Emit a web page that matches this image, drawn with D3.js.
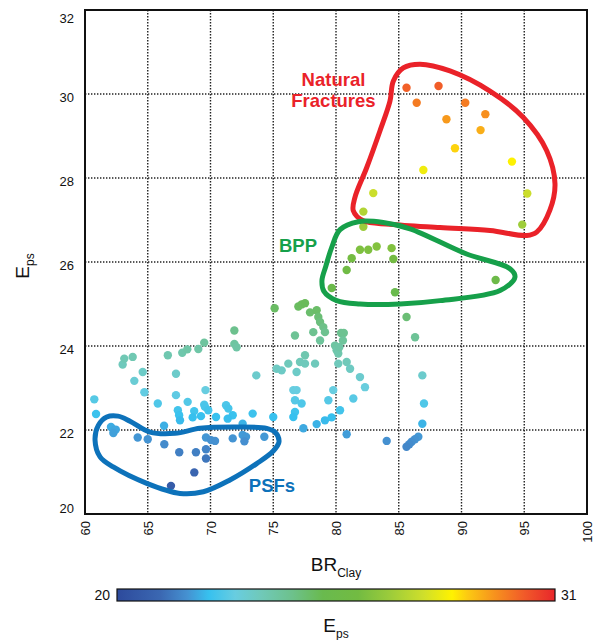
<!DOCTYPE html>
<html>
<head>
<meta charset="utf-8">
<script src="https://cdn.jsdelivr.net/npm/d3@7"></script>
<style>
  html, body { margin: 0; padding: 0; background: #fff; }
  svg text { font-family: "Liberation Sans", Arial, Helvetica, sans-serif; }
</style>
</head>
<body>
<svg id="chart" width="596" height="640"></svg>
<script>
// BR_Clay vs E_ps samples (colour encodes E_ps)
const brClay = [
  60.74, 60.88, 63.0, 63.13, 63.8, 63.93, 64.6, 64.73, 66.6, 67.75, 68.15, 69.03, 69.5, 67.25,
  67.25, 65.8, 68.18, 69.6, 69.5, 69.56, 69.82, 67.4, 67.5, 67.57, 68.7, 68.58, 69.24, 66.3,
  62.07, 62.34, 62.45, 62.26, 64.2, 65.0, 66.32, 67.51, 68.84, 69.64, 69.64, 69.64, 70.04, 70.36,
  68.71, 66.85,
  75.11, 71.9, 71.9, 72.08, 75.27, 73.65, 71.24, 71.42, 71.77, 70.44, 71.37, 73.36, 75.0, 72.56,
  71.77, 72.56, 72.83, 72.7, 74.29,
  77.0, 77.26, 77.53, 77.93, 78.46, 78.59, 78.73, 78.99, 79.12, 78.19, 76.73, 78.73, 79.92, 80.05,
  80.18, 80.26, 77.53, 77.13, 77.53, 76.2, 78.33, 75.67, 76.86, 76.6, 76.86, 79.78, 79.39, 76.73,
  77.26, 76.73, 76.6, 77.4, 78.46, 79.12, 79.65,
  84.7, 85.62, 86.3, 80.4, 80.62, 80.55, 80.18, 80.85, 81.12, 81.91, 82.31, 81.38, 80.32, 80.85,
  84.04, 86.88, 87.01, 86.88, 86.56, 86.29, 86.03, 85.84, 85.62,
  79.66, 80.85, 81.25, 81.91, 82.57, 83.24, 84.43, 84.57, 92.72,
  82.18, 82.18, 82.97, 86.96, 94.02, 89.48, 91.52, 88.8, 91.9, 86.43, 90.3, 85.62, 88.17, 95.24,
  94.84
];
const eps = [
  22.73, 22.38, 23.56, 23.70, 23.74, 23.17, 23.38, 22.90, 23.78, 23.84, 23.92, 23.93, 24.08, 23.34,
  22.83, 22.63, 22.67, 22.95, 22.60, 22.55, 22.47, 22.47, 22.35, 22.23, 22.45, 22.30, 22.33, 22.10,
  22.07, 22.00, 22.01, 21.93, 21.82, 21.78, 21.66, 21.47, 21.47, 21.54, 21.32, 21.82, 21.76, 21.74,
  20.99, 20.67,
  24.90, 24.37, 24.05, 23.97, 23.46, 23.30, 22.59, 22.51, 22.35, 22.31, 22.27, 22.39, 22.31, 22.15,
  21.80, 21.88, 21.84, 21.73, 21.84,
  24.94, 24.99, 25.02, 24.80, 24.85, 24.69, 24.57, 24.45, 24.33, 24.33, 24.25, 24.13, 24.01, 23.90,
  23.82, 23.97, 23.78, 23.62, 23.58, 23.58, 23.58, 23.42, 23.38, 22.95, 22.95, 22.95, 22.71, 22.71,
  22.63, 22.43, 22.31, 22.04, 22.14, 22.23, 22.30,
  25.28, 24.69, 24.21, 24.31, 24.31, 24.13, 23.58, 23.62, 23.46, 23.26, 23.02, 22.75, 22.47, 21.90,
  21.74, 23.30, 22.63, 22.15, 21.84, 21.78, 21.72, 21.66, 21.60,
  25.38, 25.81, 26.09, 26.29, 26.29, 26.37, 26.33, 26.07, 25.57,
  26.84, 27.20, 27.64, 28.19, 28.39, 28.71, 29.14, 29.40, 29.52, 29.79, 29.79, 30.15, 30.19, 27.63,
  26.89
];

// Hand-drawn group outlines, in data units [BR_Clay, E_ps]
const fractureOutline = [
  [86.69, 30.71], [89.08, 30.55], [92.27, 30.07], [94.93, 29.44], [96.79, 28.65], [97.45, 27.86],
  [97.05, 27.24], [95.99, 26.71], [95.2, 26.63], [92.27, 26.75], [88.29, 26.82], [84.3, 26.9],
  [82.18, 26.98], [81.38, 27.22], [81.51, 27.54], [82.45, 28.25], [83.5, 29.12], [84.3, 29.83],
  [84.57, 30.31], [85.36, 30.62]
];
const bppOutline = [
  [81.78, 26.96], [80.32, 26.77], [79.66, 26.35], [79.2, 25.91], [78.88, 25.56], [79.04, 25.3],
  [80.06, 25.08], [81.91, 25.0], [85.1, 25.0], [88.29, 25.08], [93.07, 25.32], [94.26, 25.64],
  [93.86, 25.84], [90.41, 26.19], [85.9, 26.79], [83.77, 26.94]
];
const psfOutline = [
  [61.73, 22.31], [61.06, 22.11], [60.8, 21.76], [61.2, 21.36], [62.25, 21.12], [64.92, 20.73],
  [67.57, 20.49], [69.43, 20.53], [71.55, 20.81], [73.68, 21.2], [75.0, 21.5], [75.46, 21.72],
  [75.14, 21.95], [74.48, 22.04], [71.82, 22.07], [69.16, 22.04], [67.17, 21.92], [65.18, 21.95],
  [63.59, 22.21], [62.63, 22.33]
];

const xTicks = [60, 65, 70, 75, 80, 85, 90, 95, 100];
const yTicks = [20, 22, 24, 26, 28, 30, 32];
const epsRange = [20, 31];

// colour ramp for E_ps
const rampStops = [
  [0.00, "#2d4a9c"], [0.10, "#3b68b2"], [0.16, "#4591d1"], [0.21, "#37c1ef"], [0.27, "#68cde0"],
  [0.33, "#70c9b8"], [0.40, "#6dc18c"], [0.47, "#69ba4e"], [0.55, "#72bb42"], [0.62, "#9acb3b"],
  [0.70, "#cfdf2b"], [0.765, "#fff200"], [0.80, "#fcca12"], [0.86, "#f7941d"], [0.93, "#f15a29"],
  [1.00, "#e8262b"]
];

const svg = d3.select("#chart");
const x = d3.scaleLinear().domain([60, 100]).range([85, 587]);
const y = d3.scaleLinear().domain([20, 32]).range([514, 10]);
const color = d3.scaleLinear()
  .domain(rampStops.map(s => epsRange[0] + s[0] * (epsRange[1] - epsRange[0])))
  .range(rampStops.map(s => s[1]))
  .clamp(true);

// dotted grid
const grid = svg.append("g");
grid.selectAll("line.v").data(xTicks.slice(1, -1)).join("line")
  .attr("x1", d => x(d)).attr("x2", d => x(d)).attr("y1", y(32)).attr("y2", y(20))
  .attr("stroke", "#222").attr("stroke-width", 1.4).attr("stroke-dasharray", "1.4,1.6");
grid.selectAll("line.h").data(yTicks.slice(1, -1)).join("line")
  .attr("y1", d => y(d)).attr("y2", d => y(d)).attr("x1", x(60)).attr("x2", x(100))
  .attr("stroke", "#222").attr("stroke-width", 1.4).attr("stroke-dasharray", "1.4,1.6");

// axes
const xAxis = svg.append("g").attr("transform", `translate(0,${y(20)})`)
  .call(d3.axisBottom(x).tickValues(xTicks).tickSize(0).tickFormat(d3.format("d")));
xAxis.select(".domain").remove();
xAxis.selectAll("text")
  .attr("transform", "rotate(-90)")
  .attr("x", -7).attr("y", 0).attr("dy", "0.35em")
  .attr("text-anchor", "end")
  .attr("font-size", 13).attr("fill", "#111");

const yAxis = svg.append("g").attr("transform", `translate(${x(60)},0)`)
  .call(d3.axisLeft(y).tickValues(yTicks).tickSize(0).tickFormat(d3.format("d")));
yAxis.select(".domain").remove();
yAxis.selectAll("text")
  .attr("x", -11)
  .attr("dy", d => d === 20 ? "-0.1em" : (d === 32 ? "0.95em" : "0.6em"))
  .attr("font-size", 13).attr("fill", "#111");

// samples
svg.append("g").selectAll("circle").data(brClay.map((v, i) => [v, eps[i]])).join("circle")
  .attr("cx", d => x(d[0])).attr("cy", d => y(d[1])).attr("r", 4.2)
  .attr("fill", d => color(d[1]));

// group outlines
const outline = d3.line().x(d => x(d[0])).y(d => y(d[1])).curve(d3.curveCatmullRomClosed.alpha(0.5));
[[fractureOutline, "#ea2229"], [bppOutline, "#16a04a"], [psfOutline, "#0d72ba"]].forEach(([pts, c]) => {
  svg.append("path").attr("d", outline(pts)).attr("fill", "none")
    .attr("stroke", c).attr("stroke-width", 5).attr("stroke-linejoin", "round");
});

// group labels
const lab = (txt, vx, vy, c) => svg.append("text").attr("x", x(vx)).attr("y", y(vy))
  .attr("text-anchor", "middle").attr("font-weight", "bold").attr("font-size", 18.5)
  .attr("fill", c).text(txt);
lab("Natural", 79.8, 30.2, "#ea2229");
lab("Fractures", 79.8, 29.68, "#ea2229");
lab("BPP", 76.97, 26.24, "#16a04a");
lab("PSFs", 74.9, 20.52, "#0d72ba");

// frame
svg.append("rect").attr("x", x(60)).attr("y", y(32))
  .attr("width", x(100) - x(60)).attr("height", y(20) - y(32))
  .attr("fill", "none").attr("stroke", "#111").attr("stroke-width", 2);

// axis titles
const xt = svg.append("text").attr("x", 336).attr("y", 571).attr("text-anchor", "middle")
  .attr("font-size", 19).attr("fill", "#111");
xt.append("tspan").text("BR");
xt.append("tspan").attr("font-size", 12).attr("dy", 6).text("Clay");

const yt = svg.append("text").attr("transform", "translate(29,266) rotate(-90)")
  .attr("text-anchor", "middle").attr("font-size", 19).attr("fill", "#111");
yt.append("tspan").text("E");
yt.append("tspan").attr("font-size", 12).attr("dy", 5).text("ps");

// colour bar
const defs = svg.append("defs");
const grad = defs.append("linearGradient").attr("id", "epsRamp").attr("x1", "0%").attr("x2", "100%");
grad.selectAll("stop").data(rampStops).join("stop")
  .attr("offset", d => (d[0] * 100) + "%").attr("stop-color", d => d[1]);
const cb = d3.scaleLinear().domain(epsRange).range([117, 555]);
svg.append("rect").attr("x", cb(20)).attr("y", 589).attr("width", cb(31) - cb(20)).attr("height", 12)
  .attr("fill", "url(#epsRamp)").attr("stroke", "#111").attr("stroke-width", 1.2);
svg.append("text").attr("x", cb(20) - 7).attr("y", 600).attr("text-anchor", "end")
  .attr("font-size", 14).attr("fill", "#111").text(epsRange[0]);
svg.append("text").attr("x", cb(31) + 6).attr("y", 600).attr("text-anchor", "start")
  .attr("font-size", 14).attr("fill", "#111").text(epsRange[1]);

const ct = svg.append("text").attr("x", 336).attr("y", 632).attr("text-anchor", "middle")
  .attr("font-size", 19).attr("fill", "#111");
ct.append("tspan").text("E");
ct.append("tspan").attr("font-size", 12).attr("dy", 6).text("ps");
</script>
</body>
</html>
